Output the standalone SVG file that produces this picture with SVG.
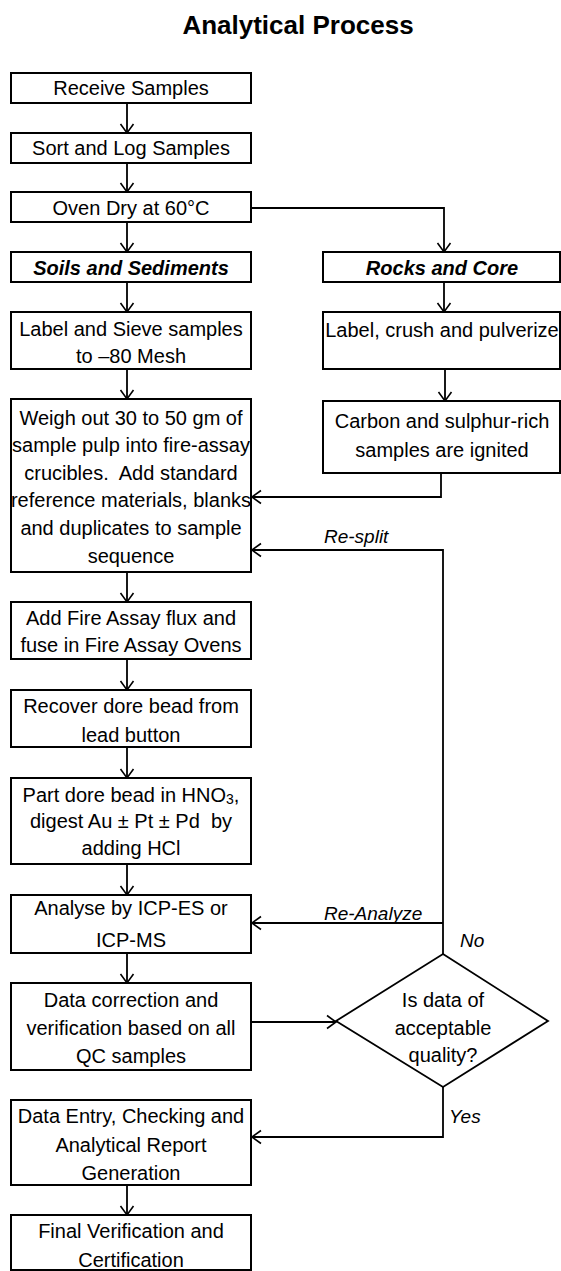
<svg xmlns="http://www.w3.org/2000/svg" width="561" height="1271" viewBox="0 0 561 1271">
<style>
.box{fill:#fff;stroke:#000;stroke-width:2}
.t{font-family:"Liberation Sans",Arial,sans-serif;font-size:20px;fill:#000;text-anchor:middle}
.bi{font-weight:bold;font-style:italic}
.lbl{font-family:"Liberation Sans",Arial,sans-serif;font-size:19px;font-style:italic;fill:#000}
.c{fill:none;stroke:#000;stroke-width:1.8;marker-end:url(#ah)}
.title{font-family:"Liberation Sans",Arial,sans-serif;font-size:26px;font-weight:bold;text-anchor:middle}
</style>
<defs>
<marker id="ah" markerUnits="userSpaceOnUse" markerWidth="14" markerHeight="16" refX="11" refY="8" orient="auto">
<path d="M2,1.5 L11,8 L2,14.5" fill="none" stroke="#000" stroke-width="1.6"/>
</marker>
</defs>
<rect width="561" height="1271" fill="#fff"/>
<text class="title" x="298" y="34">Analytical Process</text>

<g id="connectors">
<path class="c" d="M127,103 V133"/>
<path class="c" d="M127,163 V192"/>
<path class="c" d="M127,222 V252"/>
<path class="c" d="M127,282 V312"/>
<path class="c" d="M127,369 V399"/>
<path class="c" d="M127,572 V602"/>
<path class="c" d="M127,659 V690"/>
<path class="c" d="M127,747 V778"/>
<path class="c" d="M127,864 V895"/>
<path class="c" d="M127,953 V983"/>
<path class="c" d="M127,1185 V1215"/>
<path class="c" d="M251,208 H444 V252"/>
<path class="c" d="M444,282 V312"/>
<path class="c" d="M445,369 V401"/>
<path class="c" d="M441,473 V497 H252"/>
<path class="c" d="M443,954 V550 H252"/>
<path class="c" d="M443,923 H252"/>
<path class="c" d="M251,1022 H336"/>
<path class="c" d="M443,1087 V1137 H252"/>
<text class="lbl" x="324" y="543">Re-split</text>
<text class="lbl" x="324" y="920">Re-Analyze</text>
<text class="lbl" x="460" y="947">No</text>
<text class="lbl" x="449" y="1123">Yes</text>
</g>

<g id="receive"><rect class="box" x="11" y="73" width="240" height="30"/><text class="t" x="131" y="95">Receive Samples</text></g>
<g id="sort"><rect class="box" x="11" y="133" width="240" height="30"/><text class="t" x="131" y="155">Sort and Log Samples</text></g>
<g id="oven"><rect class="box" x="11" y="192" width="240" height="30"/><text class="t" x="131" y="215">Oven Dry at 60°C</text></g>
<g id="soils"><rect class="box" x="11" y="252" width="240" height="30"/><text class="t bi" x="131" y="275">Soils and Sediments</text></g>
<g id="rocks"><rect class="box" x="323" y="252" width="237" height="30"/><text class="t bi" x="442" y="275">Rocks and Core</text></g>
<g id="labelsieve"><rect class="box" x="11" y="312" width="240" height="57"/><text class="t" x="131" y="336">Label and Sieve samples</text><text class="t" x="131" y="363">to –80 Mesh</text></g>
<g id="labelcrush"><rect class="box" x="323" y="312" width="237" height="57"/><text class="t" x="442" y="337">Label, crush and pulverize</text></g>
<g id="carbon"><rect class="box" x="323" y="401" width="237" height="72"/><text class="t" x="442" y="428">Carbon and sulphur-rich</text><text class="t" x="442" y="457">samples are ignited</text></g>
<g id="weigh"><rect class="box" x="11" y="399" width="240" height="173"/>
<text class="t" x="131" y="425">Weigh out 30 to 50 gm of</text>
<text class="t" x="131" y="452">sample pulp into fire-assay</text>
<text class="t" x="131" y="480" xml:space="preserve">crucibles.  Add standard</text>
<text class="t" x="131" y="507">reference materials, blanks</text>
<text class="t" x="131" y="535">and duplicates to sample</text>
<text class="t" x="131" y="563">sequence</text></g>
<g id="fuse"><rect class="box" x="11" y="602" width="240" height="57"/><text class="t" x="131" y="625">Add Fire Assay flux and</text><text class="t" x="131" y="652">fuse in Fire Assay Ovens</text></g>
<g id="recover"><rect class="box" x="11" y="690" width="240" height="57"/><text class="t" x="131" y="713">Recover dore bead from</text><text class="t" x="131" y="742">lead button</text></g>
<g id="part"><rect class="box" x="11" y="778" width="240" height="86"/>
<text class="t" x="131" y="802">Part dore bead in HNO<tspan font-size="14" dy="2">3</tspan><tspan dy="-2">,</tspan></text>
<text class="t" x="131" y="828" xml:space="preserve">digest Au ± Pt ± Pd  by</text>
<text class="t" x="131" y="855">adding HCl</text></g>
<g id="analyse"><rect class="box" x="11" y="895" width="240" height="58"/><text class="t" x="131" y="915">Analyse by ICP-ES or</text><text class="t" x="131" y="947">ICP-MS</text></g>
<g id="correction"><rect class="box" x="11" y="983" width="240" height="87"/><text class="t" x="131" y="1007">Data correction and</text><text class="t" x="131" y="1035">verification based on all</text><text class="t" x="131" y="1063">QC samples</text></g>
<g id="decision"><polygon points="443,954 548,1021 443,1087 336,1021" fill="#fff" stroke="#000" stroke-width="1.8"/><text class="t" x="443" y="1007">Is data of</text><text class="t" x="443" y="1035">acceptable</text><text class="t" x="443" y="1062">quality?</text></g>
<g id="entry"><rect class="box" x="11" y="1100" width="240" height="85"/><text class="t" x="131" y="1123">Data Entry, Checking and</text><text class="t" x="131" y="1152">Analytical Report</text><text class="t" x="131" y="1180">Generation</text></g>
<g id="final"><rect class="box" x="11" y="1215" width="240" height="55"/><text class="t" x="131" y="1238">Final Verification and</text><text class="t" x="131" y="1267">Certification</text></g>
</svg>
